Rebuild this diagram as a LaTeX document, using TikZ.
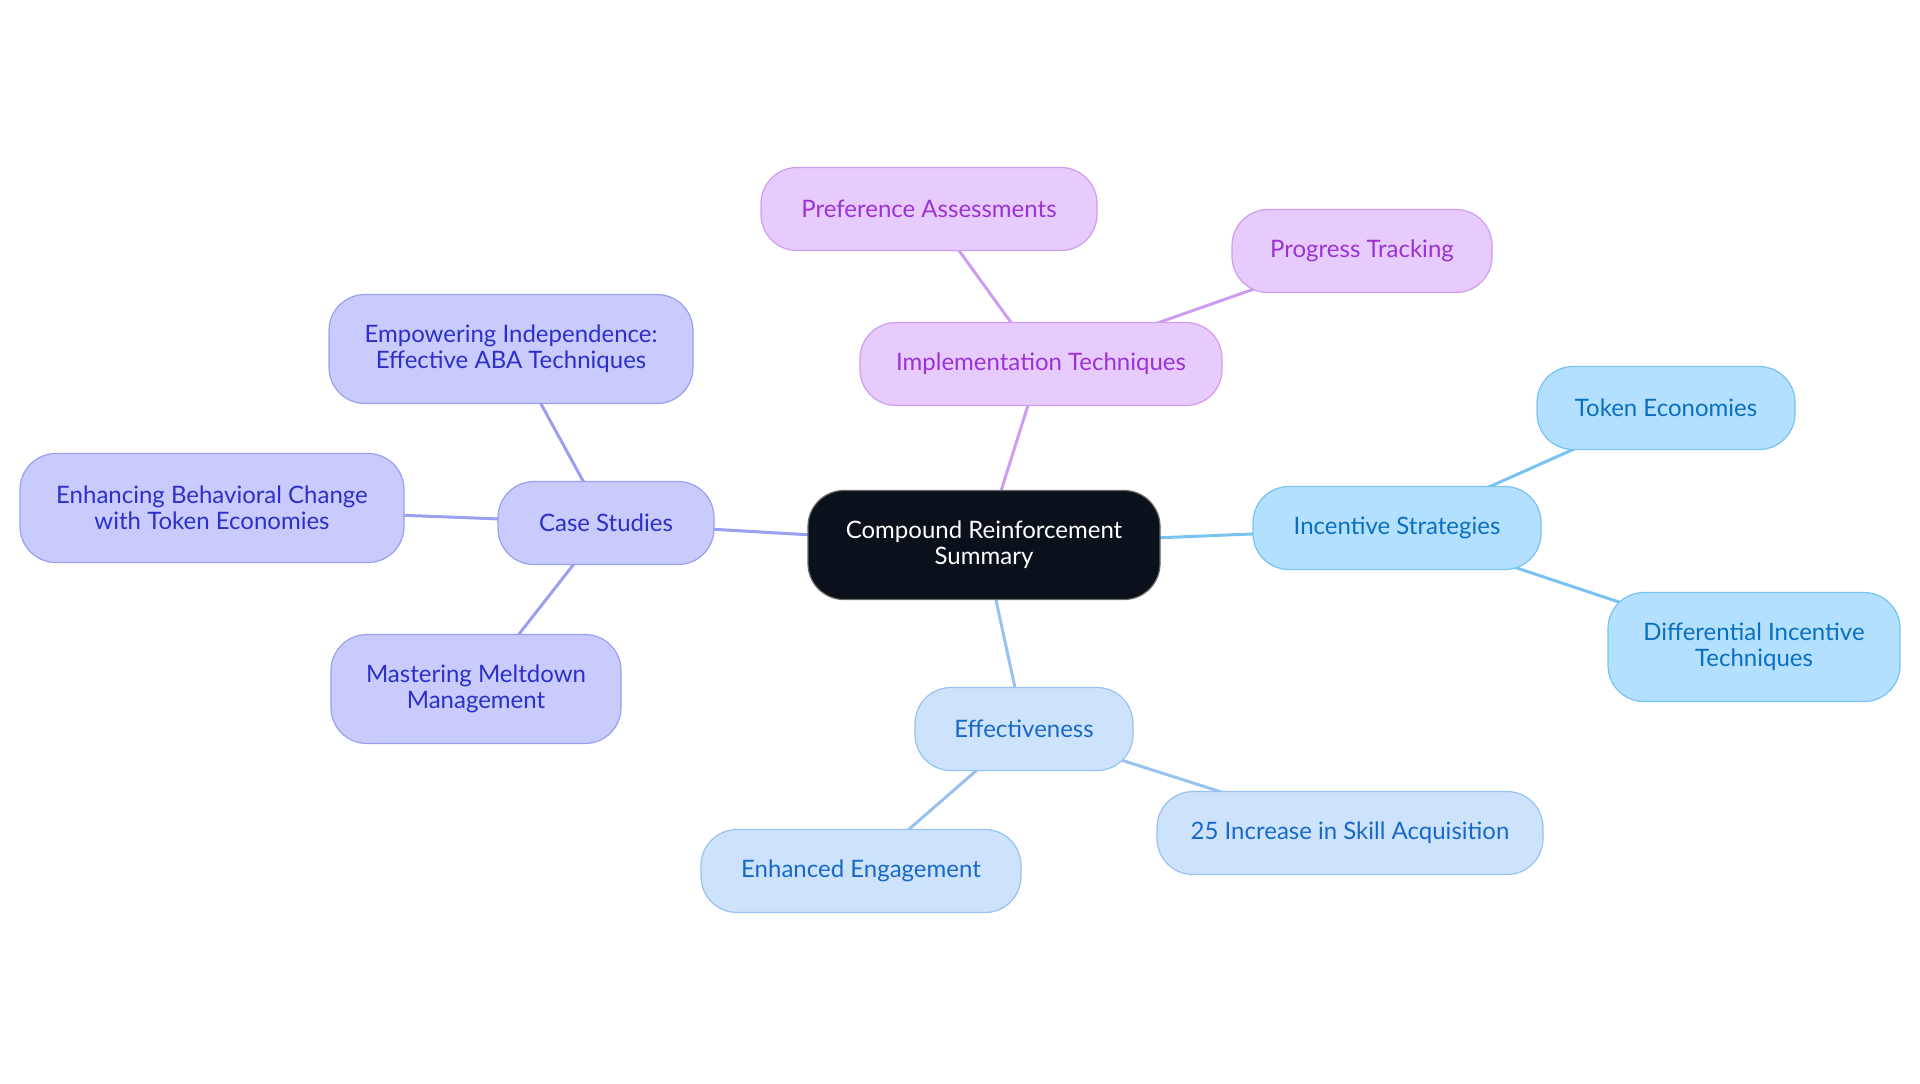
\documentclass[tikz,border=0pt]{standalone}
\usepackage{fontspec}
\setmainfont{Lato}
\usepackage{tikz}
\usetikzlibrary{positioning,backgrounds}
\definecolor{hubfill}{HTML}{0B111A}
\definecolor{impfill}{HTML}{E7CBFC}
\definecolor{impdraw}{HTML}{CE9DF2}
\definecolor{imptext}{HTML}{9A32D4}
\definecolor{incfill}{HTML}{B3E0FE}
\definecolor{incdraw}{HTML}{78C3F0}
\definecolor{inctext}{HTML}{0B6FC0}
\definecolor{efffill}{HTML}{CDE3FB}
\definecolor{effdraw}{HTML}{98C2EF}
\definecolor{efftext}{HTML}{1868C9}
\definecolor{casfill}{HTML}{C8CBFC}
\definecolor{casdraw}{HTML}{9A9FF2}
\definecolor{castext}{HTML}{2E2FC9}
\tikzset{
  box/.style={rounded corners=18pt, align=center, font=\fontsize{12}{13}\selectfont,
              inner sep=2pt, minimum height=41.5pt, line width=0.6pt},
  hub/.style={box, fill=hubfill, draw=black!60, text=white, minimum height=54.5pt, minimum width=176pt},
  imp/.style={box, fill=impfill, draw=impdraw, text=imptext},
  inc/.style={box, fill=incfill, draw=incdraw, text=inctext},
  eff/.style={box, fill=efffill, draw=effdraw, text=efftext},
  cas/.style={box, fill=casfill, draw=casdraw, text=castext},
  tall/.style={minimum height=54.5pt},
  lnk/.style={line width=1.5pt},
}
\begin{document}
\begin{tikzpicture}[x=0.5pt, y=-0.5pt]
    \useasboundingbox (0,0) rectangle (1920,1083);
    \node[hub] (hub) at (984,545) {Compound Reinforcement\\ Summary};
    % implementation branch
    \node[imp, minimum width=181pt] (impl) at (1041,364) {Implementation Techniques};
    \node[imp, minimum width=168pt] (pref) at (929,209) {Preference Assessments};
    \node[imp, minimum width=130pt] (prog) at (1362,251) {Progress Tracking};
    % incentive branch
    \node[inc, minimum width=144pt] (incs) at (1397,528) {Incentive Strategies};
    \node[inc, minimum width=129pt] (tokn) at (1666,408) {Token Economies};
    \node[inc, tall, minimum width=146pt] (diff) at (1754,647) {Differential Incentive\\ Techniques};
    % effectiveness branch
    \node[eff, minimum width=109pt] (effc) at (1024,729) {Effectiveness};
    \node[eff, minimum width=193pt] (skil) at (1350,833) {25 Increase in Skill Acquisition};
    \node[eff, minimum width=160pt] (enga) at (861,871) {Enhanced Engagement};
    % case studies branch
    \node[cas, minimum width=108pt] (case) at (606,523) {Case Studies};
    \node[cas, tall, minimum width=182pt] (empw) at (511,349) {Empowering Independence:\\ Effective ABA Techniques};
    \node[cas, tall, minimum width=192pt] (enhb) at (212,508) {Enhancing Behavioral Change\\ with Token Economies};
    \node[cas, tall, minimum width=145pt] (mast) at (476,689) {Mastering Meltdown\\ Management};
    \begin{scope}[on background layer]
      \draw[lnk, impdraw] (hub.center) -- (impl.center);
      \draw[lnk, impdraw] (impl.center) -- (pref.center);
      \draw[lnk, impdraw] (impl.center) -- (prog.center);
      \draw[lnk, incdraw] (hub.center) -- (incs.center);
      \draw[lnk, incdraw] (incs.center) -- (tokn.center);
      \draw[lnk, incdraw] (incs.center) -- (diff.center);
      \draw[lnk, effdraw] (hub.center) -- (effc.center);
      \draw[lnk, effdraw] (effc.center) -- (skil.center);
      \draw[lnk, effdraw] (effc.center) -- (enga.center);
      \draw[lnk, casdraw] (hub.center) -- (case.center);
      \draw[lnk, casdraw] (case.center) -- (empw.center);
      \draw[lnk, casdraw] (case.center) -- (enhb.center);
      \draw[lnk, casdraw] (case.center) -- (mast.center);
    \end{scope}
\end{tikzpicture}
\end{document}
